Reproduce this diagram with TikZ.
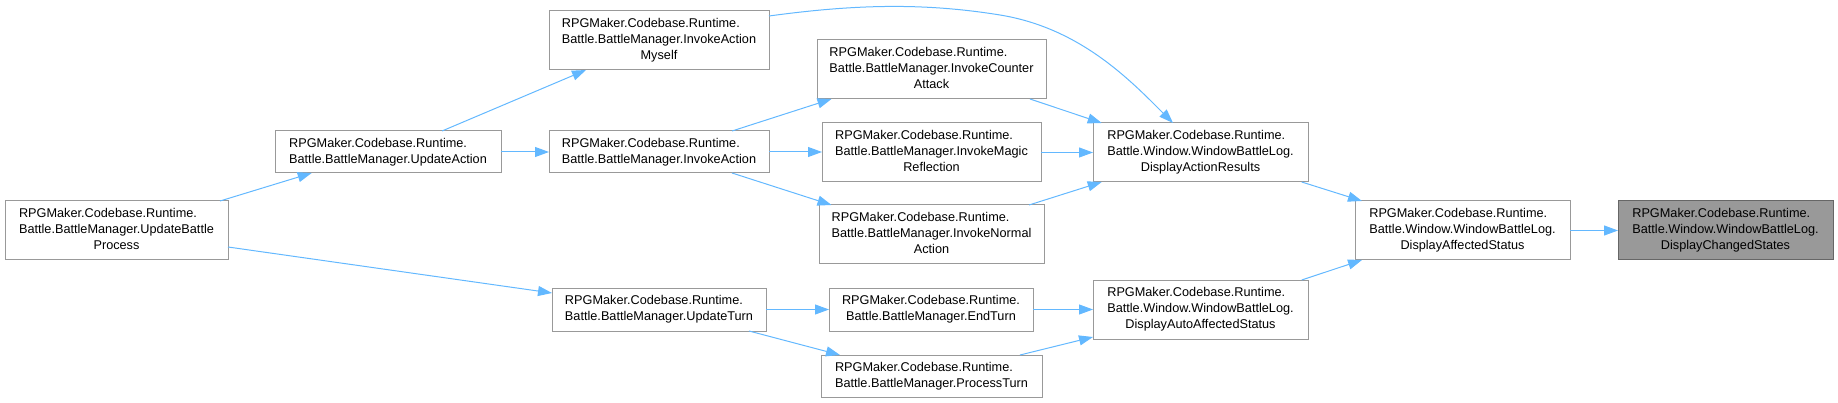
\documentclass[tikz,border=0pt]{standalone}
\usepackage{fontspec}
\setmainfont{Liberation Sans}
\usetikzlibrary{arrows.meta,calc}
\definecolor{edgeblue}{HTML}{63B8FF}
\definecolor{nodeborder}{HTML}{999999}
\definecolor{hlfill}{HTML}{999999}
\definecolor{hlborder}{HTML}{666666}
\newcommand{\twolines}[2]{\begin{tabular}{@{}l@{}}#1\\\multicolumn{1}{@{}c@{}}{#2}\end{tabular}}
\newcommand{\threelines}[3]{\begin{tabular}{@{}l@{}}#1\\#2\\\multicolumn{1}{@{}c@{}}{#3}\end{tabular}}
\tikzset{
  fn/.style={draw=nodeborder, line width=1pt, fill=white, rectangle, inner sep=0pt, outer sep=0pt,
    font=\fontsize{12.7}{16}\selectfont, text=black},
  hl/.style={fn, draw=hlborder, fill=hlfill},
  call/.style={draw=edgeblue, line width=1pt, -{Triangle[length=14pt,width=10pt]}, edgeblue}
}
\begin{document}
\begin{tikzpicture}[x=1pt,y=-1pt]
\useasboundingbox (0,0) rectangle (1838,403);
% nodes
\node[fn, minimum width=223pt, minimum height=59pt] (ubp) at (116.5,230.5)
  {\threelines{RPGMaker.Codebase.Runtime.}{Battle.BattleManager.UpdateBattle}{Process}};
\node[fn, minimum width=226pt, minimum height=42pt] (ua) at (388,152)
  {\twolines{RPGMaker.Codebase.Runtime.}{Battle.BattleManager.UpdateAction}};
\node[fn, minimum width=220pt, minimum height=59pt] (iam) at (659,40.5)
  {\threelines{RPGMaker.Codebase.Runtime.}{Battle.BattleManager.InvokeAction}{Myself}};
\node[fn, minimum width=220pt, minimum height=42pt] (ia) at (659,152)
  {\twolines{RPGMaker.Codebase.Runtime.}{Battle.BattleManager.InvokeAction}};
\node[fn, minimum width=214pt, minimum height=43pt] (ut) at (659,309.5)
  {\twolines{RPGMaker.Codebase.Runtime.}{Battle.BattleManager.UpdateTurn}};
\node[fn, minimum width=229pt, minimum height=59pt] (ica) at (931.5,69.5)
  {\threelines{RPGMaker.Codebase.Runtime.}{Battle.BattleManager.InvokeCounter}{Attack}};
\node[fn, minimum width=219pt, minimum height=59pt] (imr) at (931.5,152.5)
  {\threelines{RPGMaker.Codebase.Runtime.}{Battle.BattleManager.InvokeMagic}{Reflection}};
\node[fn, minimum width=225pt, minimum height=59pt] (ina) at (931.5,234.5)
  {\threelines{RPGMaker.Codebase.Runtime.}{Battle.BattleManager.InvokeNormal}{Action}};
\node[fn, minimum width=204pt, minimum height=43pt] (et) at (931,309.5)
  {\twolines{RPGMaker.Codebase.Runtime.}{Battle.BattleManager.EndTurn}};
\node[fn, minimum width=221pt, minimum height=42pt] (pt) at (931.5,376)
  {\twolines{RPGMaker.Codebase.Runtime.}{Battle.BattleManager.ProcessTurn}};
\node[fn, minimum width=215pt, minimum height=59pt] (dar) at (1200.5,152.5)
  {\threelines{RPGMaker.Codebase.Runtime.}{Battle.Window.WindowBattleLog.}{DisplayActionResults}};
\node[fn, minimum width=215pt, minimum height=59pt] (daas) at (1200.5,309.5)
  {\threelines{RPGMaker.Codebase.Runtime.}{Battle.Window.WindowBattleLog.}{DisplayAutoAffectedStatus}};
\node[fn, minimum width=215pt, minimum height=59pt] (das) at (1462.5,230.5)
  {\threelines{RPGMaker.Codebase.Runtime.}{Battle.Window.WindowBattleLog.}{DisplayAffectedStatus}};
\node[hl, minimum width=215pt, minimum height=59pt] (dcs) at (1725.5,230.5)
  {\threelines{RPGMaker.Codebase.Runtime.}{Battle.Window.WindowBattleLog.}{DisplayChangedStates}};
% edges
\draw[call] ($(ubp.north west)+(215,0)$) -- ($(ua.south west)+(36.7,0)$);
\draw[call] ($(ubp.north east)+(0,46)$) -- ($(ut.north west)+(0,5)$);
\draw[call] ($(ua.north west)+(167,0)$) -- ($(iam.south west)+(37,0)$);
\draw[call] (ua.east) -- (ia.west);
\draw[call] ($(iam.north east)+(0,5)$) .. controls (850,5) and (920,2) .. (1000,15)
  .. controls (1080,28) and (1130,80) .. ($(dar.north west)+(80,0)$);
\draw[call] ($(ia.north west)+(183,0)$) -- ($(ica.south west)+(14.5,0)$);
\draw[call] (ia.east) -- (imr.west |- ia.east);
\draw[call] ($(ia.south west)+(183,0)$) -- ($(ina.north west)+(12.5,0)$);
\draw[call] ($(ica.south east)+(-16,0)$) -- ($(dar.north west)+(8.7,0)$);
\draw[call] (imr.east) -- (dar.west);
\draw[call] ($(ina.north east)+(-15,0)$) -- ($(dar.south west)+(8.7,0)$);
\draw[call] (ut.east) -- (et.west);
\draw[call] ($(ut.south west)+(197,0)$) -- ($(pt.north west)+(19,0)$);
\draw[call] (et.east) -- (daas.west);
\draw[call] ($(pt.north east)+(-22,0)$) -- ($(daas.south west)+(0,-2)$);
\draw[call] ($(dar.south east)+(-6.3,0)$) -- ($(das.north west)+(7,0)$);
\draw[call] ($(daas.north east)+(-6.3,0)$) -- ($(das.south west)+(7,0)$);
\draw[call] (das.east) -- (dcs.west);
\end{tikzpicture}
\end{document}
